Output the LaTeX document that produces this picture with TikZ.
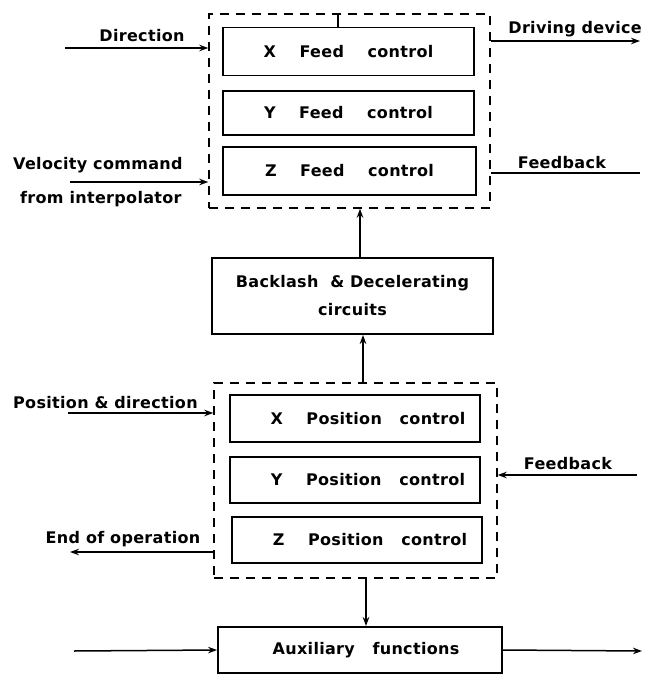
\documentclass[tikz,border=0pt]{standalone}
\usepackage{fontspec}
\setmainfont{DejaVu Sans}[LetterSpace=2]
\usetikzlibrary{arrows.meta,calc}
\begin{document}
\begin{tikzpicture}[x=1pt,y=-1pt,
  every node/.style={font=\bfseries\fontsize{16}{19}\selectfont},
  blk/.style={draw,line width=1.9pt,inner sep=0pt,align=center},
  grp/.style={draw,dash pattern=on 9pt off 7pt,line width=1.5pt,inner sep=0pt},
  lbl/.style={inner sep=0pt,align=left},
  conn/.style={line width=1.5pt},
  arr/.style={conn,-{Stealth[length=9pt,width=6.5pt]}}]
\useasboundingbox (0,0) rectangle (645,675);
% groups
\node[grp,minimum width=281pt,minimum height=194pt] (topgrp) at (349.5,111) {};
\node[grp,minimum width=283pt,minimum height=195pt] (botgrp) at (355.5,480.5) {};
% feed controls
\node[blk,minimum width=251pt,minimum height=48pt] (xf) at (348.5,51.5) {X~~~~Feed~~~~control};
\node[blk,minimum width=251pt,minimum height=44pt] (yf) at (348.5,113) {Y~~~~Feed~~~~control};
\node[blk,minimum width=253pt,minimum height=48pt] (zf) at (349.5,171) {Z~~~~Feed~~~~control};
% backlash
\node[blk,minimum width=281pt,minimum height=76pt] (back) at (352.5,296) {Backlash~~\&~Decelerating\\[9pt]circuits};
% position controls
\node[blk,minimum width=250pt,minimum height=47pt] (xp) at (355,418.5) {\hspace*{26pt}X~~~~Position~~~control};
\node[blk,minimum width=250pt,minimum height=46pt] (yp) at (355,480) {\hspace*{26pt}Y~~~~Position~~~control};
\node[blk,minimum width=250pt,minimum height=46pt] (zp) at (357,540) {\hspace*{26pt}Z~~~~Position~~~control};
% auxiliary
\node[blk,minimum width=284pt,minimum height=46pt] (aux) at (360,650) {\hspace*{12pt}Auxiliary~~~functions};
% free ends
\coordinate (dir) at (65,48);
\coordinate (vel) at (70,182);
\coordinate (drv) at (640,41);
\coordinate (fbt) at (640,173);
\coordinate (pos) at (68,413);
\coordinate (fbb) at (637,475);
\coordinate (eoo) at (70,552);
\coordinate (ain) at (74,651);
\coordinate (aout) at (642,651);
\coordinate (stub) at (338,0);
\coordinate (c1) at (360,0);
\coordinate (c2) at (363,0);
\coordinate (c3) at (366,0);
% labels
\node[lbl] (ldir) at (142,36) {Direction};
\node[lbl,anchor=west] (lvel1) at (13,165) {Velocity command};
\node[lbl,anchor=west] (lvel2) at (20,199) {from interpolator};
\node[lbl,anchor=east] (ldrv) at (642,29) {Driving device};
\node[lbl] (lfbt) at (562,163) {Feedback};
\node[lbl,anchor=west] (lpos) at (13,403) {Position \& direction};
\node[lbl] (lfbb) at (568,464) {Feedback};
\node[lbl] (leoo) at (123,539) {End of operation};
% connectors
\draw[arr] (dir) -- (dir -| topgrp.west);
\draw[arr] (vel) -- (vel -| topgrp.west);
\draw[arr] (drv -| topgrp.east) -- (drv);
\draw[conn] (fbt) -- (fbt -| topgrp.east);
\draw[conn] (stub |- topgrp.north) -- (stub |- xf.north);
\draw[arr] (c1 |- back.north) -- (c1 |- topgrp.south);
\draw[arr] (c2 |- botgrp.north) -- (c2 |- back.south);
\draw[arr] (pos) -- (pos -| botgrp.west);
\draw[arr] (fbb) -- (fbb -| botgrp.east);
\draw[arr] (eoo -| botgrp.west) -- (eoo);
\draw[arr] (c3 |- botgrp.south) -- (c3 |- aux.north);
\draw[arr] (ain) -- (aux.west);
\draw[arr] (aux.east) -- (aout);
\end{tikzpicture}
\end{document}
